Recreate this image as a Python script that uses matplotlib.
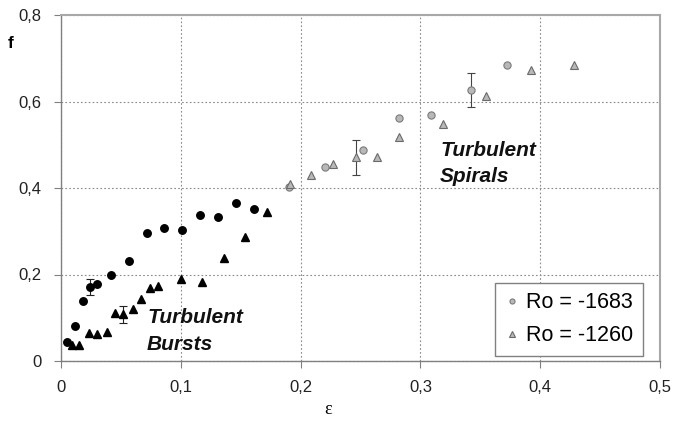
import matplotlib
matplotlib.use("Agg")
import matplotlib.pyplot as plt

# Turbulent bursts (black)
burstCircleEps = [0.005, 0.012, 0.018, 0.024, 0.030, 0.042, 0.057, 0.072, 0.086, 0.101, 0.116, 0.131, 0.146, 0.161]
burstCircleF = [0.043, 0.082, 0.139, 0.171, 0.178, 0.198, 0.232, 0.297, 0.308, 0.304, 0.337, 0.333, 0.366, 0.351]
burstCircleErr = [0, 0, 0, 0.018, 0, 0, 0, 0, 0, 0, 0, 0, 0, 0]

burstTriEps = [0.009, 0.015, 0.023, 0.030, 0.038, 0.045, 0.052, 0.060, 0.067, 0.074, 0.081, 0.100, 0.118, 0.136, 0.154, 0.172]
burstTriF = [0.038, 0.037, 0.064, 0.063, 0.067, 0.110, 0.108, 0.121, 0.144, 0.169, 0.173, 0.189, 0.182, 0.239, 0.286, 0.344]
burstTriErr = [0, 0, 0, 0, 0, 0, 0.020, 0, 0, 0, 0, 0, 0, 0, 0, 0]

# Turbulent spirals (grey)
spiralCircleEps = [0.190, 0.220, 0.252, 0.282, 0.309, 0.342, 0.372]
spiralCircleF = [0.402, 0.449, 0.489, 0.561, 0.568, 0.627, 0.685]
spiralCircleErr = [0, 0, 0, 0, 0, 0.040, 0]

spiralTriEps = [0.191, 0.209, 0.227, 0.246, 0.264, 0.282, 0.319, 0.355, 0.392, 0.428]
spiralTriF = [0.410, 0.431, 0.455, 0.471, 0.472, 0.519, 0.548, 0.613, 0.672, 0.684]
spiralTriErr = [0, 0, 0, 0.040, 0, 0, 0, 0, 0, 0]

xTicks = [0, 0.1, 0.2, 0.3, 0.4, 0.5]
xTickLabels = ["0", "0,1", "0,2", "0,3", "0,4", "0,5"]
yTicks = [0, 0.2, 0.4, 0.6, 0.8]
yTickLabels = ["0", "0,2", "0,4", "0,6", "0,8"]


def withErrors(eps, f, err):
    xs, ys, es = [], [], []
    for x, y, e in zip(eps, f, err):
        if e > 0:
            xs.append(x)
            ys.append(y)
            es.append(e)
    return xs, ys, es


plt.rcParams['font.family'] = ['Liberation Sans', 'DejaVu Sans']

fig = plt.figure(figsize=(6.73, 4.21), dpi=100)
ax = fig.add_axes([61 / 673, 1 - 361 / 421, 599 / 673, 346 / 421])

ax.set_xlim(0, 0.5)
ax.set_ylim(0, 0.8)

ax.grid(True, color="#8a8a8a", linestyle=(0, (1.5, 2)), linewidth=0.8)
ax.set_axisbelow(True)

# error bars
for eps, f, err, col in [(burstCircleEps, burstCircleF, burstCircleErr, "#222222"),
                         (burstTriEps, burstTriF, burstTriErr, "#222222"),
                         (spiralCircleEps, spiralCircleF, spiralCircleErr, "#444444"),
                         (spiralTriEps, spiralTriF, spiralTriErr, "#444444")]:
    xs, ys, es = withErrors(eps, f, err)
    ax.errorbar(xs, ys, yerr=es, fmt="none", ecolor=col, elinewidth=0.8, capsize=3, capthick=0.8)

ax.plot(burstCircleEps, burstCircleF, "o", color="black", markersize=5.4, linestyle="none")
ax.plot(burstTriEps, burstTriF, "^", color="black", markersize=5.6, linestyle="none")
ax.plot(spiralCircleEps, spiralCircleF, "o", markerfacecolor="#b8b8b8", markeredgecolor="#7a7a7a",
        markeredgewidth=0.8, markersize=5.2, linestyle="none", label="Ro = -1683")
ax.plot(spiralTriEps, spiralTriF, "^", markerfacecolor="#b8b8b8", markeredgecolor="#6a6a6a",
        markeredgewidth=0.8, markersize=5.5, linestyle="none", label="Ro = -1260")

ax.set_xticks(xTicks)
ax.set_xticklabels(xTickLabels)
ax.set_yticks(yTicks)
ax.set_yticklabels(yTickLabels)
ax.tick_params(axis="both", direction="out", length=5, width=0.8, color="#808080",
               labelsize=12, labelcolor="#222222")
ax.tick_params(axis="x", pad=9)
ax.tick_params(axis="y", pad=9)

for side in ["left", "bottom"]:
    ax.spines[side].set_color("#808080")
    ax.spines[side].set_linewidth(1.0)
for side in ["top", "right"]:
    ax.spines[side].set_color("#a8a8a8")
    ax.spines[side].set_linewidth(1.5)

textStyle = dict(fontsize=15, fontweight="bold", fontstyle="italic", color="#111111", va="baseline")
ax.text(0.0718, 0.088, "Turbulent", **textStyle)
ax.text(0.0718, 0.0255, "Bursts", **textStyle)
ax.text(0.3164, 0.475, "Turbulent", **textStyle)
ax.text(0.3164, 0.413, "Spirals", **textStyle)

leg = ax.legend(loc="lower right", bbox_to_anchor=(0.9716, 0.0145), borderaxespad=0, fontsize=15.5,
                fancybox=False, framealpha=1, edgecolor="#808080", markerscale=0.7,
                handlelength=0.7, handletextpad=0.3, borderpad=0.45, labelspacing=0.55)
leg.get_frame().set_linewidth(1.0)

fig.text(11 / 673, 1 - 44 / 421, "f", fontsize=12.5, fontweight="bold", ha="center", va="center")
fig.text(328 / 673, 1 - 409 / 421, "ε", fontsize=13, family=["Liberation Serif", "DejaVu Serif"],
         ha="center", va="center")

fig.savefig("out.png", dpi=100)
